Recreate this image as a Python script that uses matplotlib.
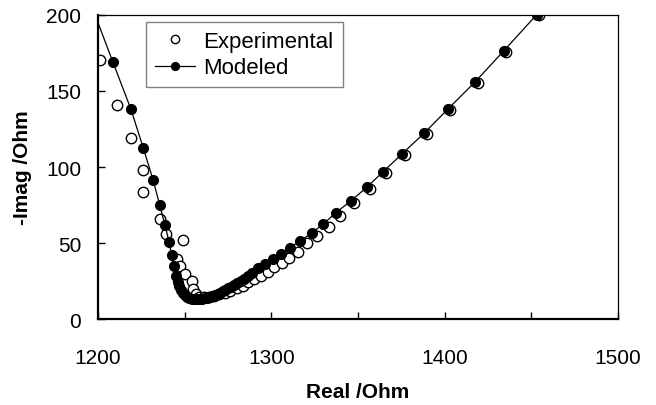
import matplotlib
matplotlib.use("Agg")
import matplotlib.pyplot as plt
from matplotlib.ticker import MultipleLocator

plt.rcParams['font.family'] = ['Liberation Sans', 'DejaVu Sans']

# modeled impedance (filled circles + line)
mod_real = [1195, 1208.5, 1219, 1226.2, 1231.8, 1235.6, 1238.6, 1241.0, 1242.5, 1243.8,
            1245.0, 1246.0, 1247.0, 1248.0, 1249.0, 1250.0, 1251.2, 1252.5, 1254.0, 1255.5,
            1257.0, 1258.5, 1260.0, 1261.5, 1263.0, 1264.5, 1266.0, 1267.5, 1269.0, 1270.5,
            1272.0, 1273.5, 1275.0, 1276.8, 1278.5, 1280.3, 1282.3, 1284.3, 1286.5, 1288.7,
            1292.5, 1296.5, 1300.8, 1305.6, 1310.8, 1316.8, 1323.3, 1330.0, 1337.3, 1345.8,
            1355.0, 1364.6, 1375.6, 1388.3, 1401.7, 1417.5, 1434.2, 1453.1]
mod_imag = [210, 169.3, 138.0, 112.2, 91.4, 75.0, 62.0, 50.8, 42.3, 34.8,
            28.5, 24.5, 21.5, 19.0, 17.2, 15.8, 14.7, 13.9, 13.3, 13.0,
            12.9, 13.0, 13.2, 13.5, 13.9, 14.4, 15.0, 15.7, 16.5, 17.4,
            18.3, 19.2, 20.1, 21.2, 22.4, 23.6, 25.0, 26.5, 28.3, 30.3,
            33.3, 36.2, 39.2, 43.0, 47.0, 51.5, 56.6, 62.5, 70.0, 77.6,
            86.6, 97.0, 108.8, 122.4, 137.9, 155.9, 176.5, 200.2]

# experimental impedance (open circles)
exp_real = [1201.0, 1210.8, 1218.9, 1226.2, 1226.2, 1235.5, 1239.0, 1249.2, 1245.6, 1247.5,
            1250.0, 1254.0, 1255.0, 1256.5, 1258.5, 1261.0, 1264.0, 1267.0, 1270.0, 1273.0,
            1276.2, 1280.0, 1283.5, 1286.7, 1290.2, 1294.0, 1298.3, 1301.7, 1306.0, 1310.4,
            1315.2, 1320.4, 1326.5, 1333.4, 1339.5, 1347.8, 1356.8, 1366.3, 1377.2, 1389.8,
            1403.0, 1419.0, 1435.5, 1454.5]
exp_imag = [170.7, 141.0, 118.8, 98.2, 83.3, 65.5, 56.0, 51.8, 39.3, 34.8,
            29.6, 24.8, 19.7, 16.5, 14.8, 14.3, 14.5, 15.2, 16.2, 17.3,
            18.6, 20.4, 21.9, 24.1, 26.3, 28.5, 31.1, 34.0, 36.8, 39.9,
            44.3, 49.7, 54.4, 60.3, 67.5, 76.0, 85.3, 95.8, 108.0, 121.6,
            137.2, 155.3, 175.9, 199.8]

fig = plt.figure(figsize=(6.56, 4.06), dpi=100)
ax = fig.add_axes([0.1494, 0.2118, 0.7926, 0.7488])

ax.plot(exp_real, exp_imag, 'o', ms=7.5, mfc='white', mec='black', mew=1.0,
        label='Experimental')
ax.plot(mod_real, mod_imag, '-o', color='black', lw=0.9, ms=7, mfc='black',
        mec='black', label='Modeled')

ax.set_xlim(1200, 1500)
ax.set_ylim(0, 200)
ax.xaxis.set_major_locator(MultipleLocator(100))
ax.xaxis.set_minor_locator(MultipleLocator(50))
ax.yaxis.set_major_locator(MultipleLocator(50))
ax.tick_params(axis='x', which='both', direction='in', length=5, width=1,
               labelsize=15, pad=21)
ax.tick_params(axis='y', which='both', direction='in', length=5, width=1,
               labelsize=15, pad=12)

for s in ['left', 'bottom']:
    ax.spines[s].set_linewidth(1.6)
for s in ['top', 'right']:
    ax.spines[s].set_linewidth(0.9)

ax.set_xlabel('Real /Ohm', fontsize=15, fontweight='bold', labelpad=11)
ax.set_ylabel('-Imag /Ohm', fontsize=15, fontweight='bold', labelpad=10)

leg = ax.legend(loc='upper left', bbox_to_anchor=(0.092, 0.977), borderaxespad=0,
                fontsize=16, markerscale=0.8, handlelength=1.8, handletextpad=0.4,
                labelspacing=0.25, borderpad=0.4, fancybox=False, framealpha=1)
leg.get_frame().set_edgecolor('#808080')
leg.get_frame().set_linewidth(1.0)

fig.savefig('out.png', dpi=100)
